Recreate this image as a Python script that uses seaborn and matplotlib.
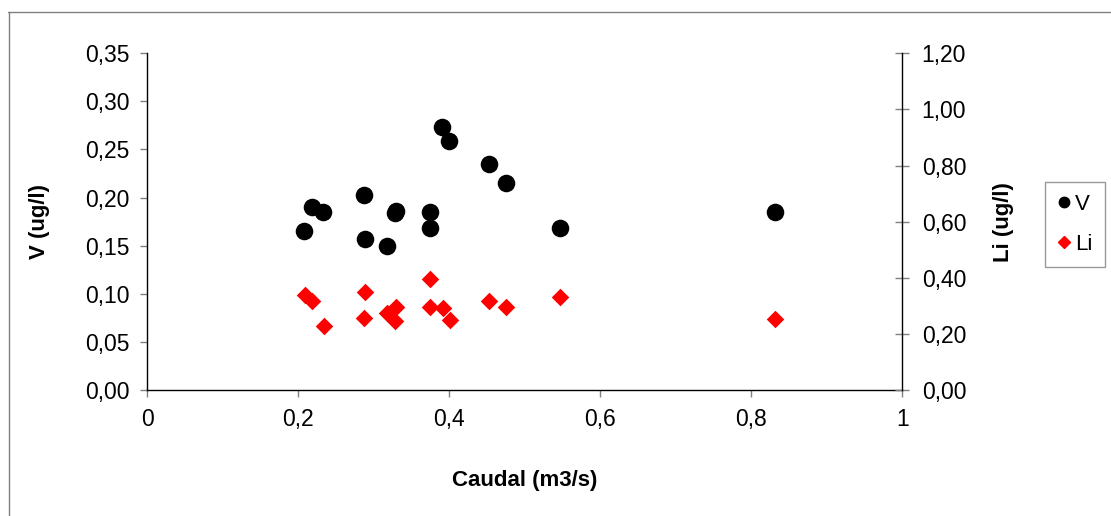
import matplotlib
matplotlib.use("Agg")
import matplotlib.pyplot as plt
import seaborn as sns
import pandas as pd
from matplotlib.lines import Line2D
from matplotlib.ticker import FuncFormatter, MultipleLocator

# Data
caudal_v = [0.208, 0.218, 0.233, 0.287, 0.289, 0.317, 0.328, 0.329, 0.374, 0.374,
            0.390, 0.400, 0.4525, 0.475, 0.547, 0.832]
v_vals = [0.165, 0.190, 0.185, 0.203, 0.157, 0.150, 0.184, 0.186, 0.185, 0.168,
          0.273, 0.259, 0.235, 0.215, 0.168, 0.185]
caudal_li = [0.209, 0.2185, 0.234, 0.289, 0.287, 0.317, 0.329, 0.328, 0.374, 0.375,
             0.391, 0.401, 0.4525, 0.475, 0.547, 0.832]
li_vals = [0.339, 0.318, 0.228, 0.350, 0.255, 0.273, 0.297, 0.247, 0.394, 0.295,
           0.291, 0.250, 0.317, 0.296, 0.330, 0.252]

x_label = "Caudal (m3/s)"
y_left_label = "V (ug/l)"
y_right_label = "Li (ug/l)"

sns.set_style("white")
plt.rcParams['font.family'] = ['Liberation Sans', 'DejaVu Sans']
plt.rcParams['text.color'] = 'black'
plt.rcParams['axes.labelcolor'] = 'black'

W, H = 1111, 516
fig = plt.figure(figsize=(W / 100, H / 100), dpi=100)
ax = fig.add_axes([147.3 / W, 1 - 390 / H, 755 / W, 336.7 / H])
ax2 = ax.twinx()

df_v = pd.DataFrame({"x": caudal_v, "y": v_vals})
df_li = pd.DataFrame({"x": caudal_li, "y": li_vals})

sns.scatterplot(data=df_v, x="x", y="y", ax=ax, color="black", marker="o",
                s=160, linewidth=0, zorder=3, legend=False)
sns.scatterplot(data=df_li, x="x", y="y", ax=ax2, color="#ff0000", marker="D",
                s=80, linewidth=0, zorder=3, legend=False)

ax.set_xlim(0, 1)
ax.set_ylim(0, 0.35)
ax2.set_ylim(0, 1.2)
ax.xaxis.set_major_locator(MultipleLocator(0.2))
ax.yaxis.set_major_locator(MultipleLocator(0.05))
ax2.yaxis.set_major_locator(MultipleLocator(0.2))

def comma_fmt(dec):
    return FuncFormatter(lambda v, p: (f"{v:.{dec}f}").replace(".", ","))

ax.xaxis.set_major_formatter(FuncFormatter(
    lambda v, p: "0" if abs(v) < 1e-9 else ("1" if abs(v - 1) < 1e-9 else f"{v:.1f}".replace(".", ","))))
ax.yaxis.set_major_formatter(comma_fmt(2))
ax2.yaxis.set_major_formatter(comma_fmt(2))

for a in (ax, ax2):
    for s in a.spines.values():
        s.set_visible(False)
ax.spines['left'].set_visible(True)
ax.spines['bottom'].set_visible(True)
ax2.spines['right'].set_visible(True)
for s in (ax.spines['left'], ax.spines['bottom'], ax2.spines['right']):
    s.set_color("black")
    s.set_linewidth(1.0)

FS = 16.5
ax.tick_params(axis='both', direction='out', length=5, width=1, color='#808080',
               labelcolor='black', labelsize=FS, pad=8, left=True, bottom=True)
ax2.tick_params(axis='y', direction='inout', length=10, width=1, color='#808080',
                labelcolor='black', labelsize=FS, pad=9, right=True)

ax.set_xlabel(x_label, fontsize=16, fontweight='bold', color='black')
ax.set_ylabel(y_left_label, fontsize=16, fontweight='bold', color='black')
ax2.set_ylabel(y_right_label, fontsize=16, fontweight='bold', color='black')
ax.xaxis.set_label_coords(0.5003, -0.2376)
ax.yaxis.set_label_coords(-0.129, 0.5)
ax2.yaxis.set_label_coords(1.120, 0.5)

handles = [
    Line2D([], [], marker='o', color='black', linestyle='none', markersize=7.5),
    Line2D([], [], marker='D', color='#ff0000', linestyle='none', markersize=6),
]
leg = fig.legend(handles, ["V", "Li"], loc='upper left',
                 bbox_to_anchor=(1045 / W, 1 - 182 / H), fontsize=16,
                 frameon=True, fancybox=False, edgecolor='#808080',
                 handlelength=0.6, handletextpad=0.2, borderpad=0.55,
                 labelspacing=0.85, borderaxespad=0)
leg.get_frame().set_linewidth(1.0)
for t in leg.get_texts():
    t.set_color('black')

# chart-area border (top and left visible)
fig.add_artist(Line2D([8 / W, 1], [1 - 11.5 / H, 1 - 11.5 / H], color='#808080', lw=1,
                      transform=fig.transFigure))
fig.add_artist(Line2D([8.5 / W, 8.5 / W], [0, 1 - 11.5 / H], color='#808080', lw=1,
                      transform=fig.transFigure))

fig.savefig("out.png", dpi=100)
